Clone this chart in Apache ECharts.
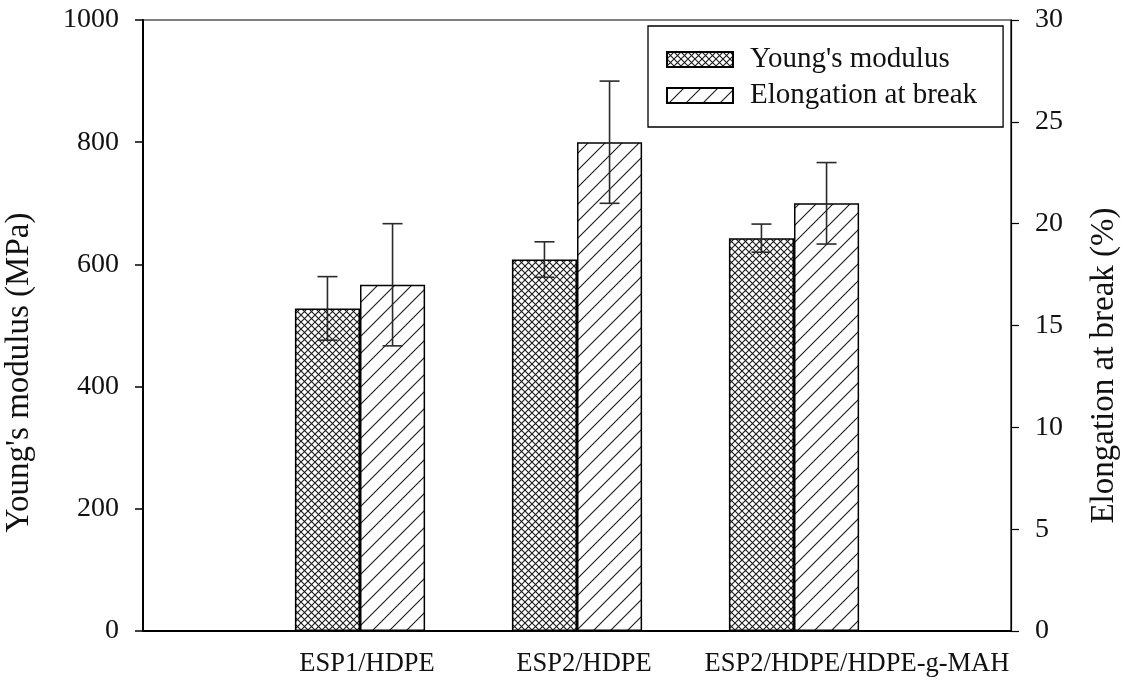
<!DOCTYPE html>
<html>
<head>
<meta charset="utf-8">
<script src="https://cdn.jsdelivr.net/npm/echarts@6/dist/echarts.min.js"></script>
<style>
  html, body { margin: 0; padding: 0; background: #fff; }
  #chart { width: 1125px; height: 681px; }
</style>
</head>
<body>
<div id="chart"></div>
<script>
// Blend categories (empty slots pad both ends of the axis)
const categories = ['', 'ESP1/HDPE', 'ESP2/HDPE', 'ESP2/HDPE/HDPE-g-MAH', ''];
// Young's modulus (MPa) and standard deviation
const youngModulus = ['-', 528, 608, 643, '-'];
const youngSd = [0, 52, 29, 23, 0];
// Elongation at break (%) and standard deviation
const elongation = ['-', 17, 24, 21, '-'];
const elongSd = [0, 3, 3, 2, 0];
// Tick settings
const leftTicks = { min: 0, max: 1000, interval: 200 };
const rightTicks = { min: 0, max: 30, interval: 5 };

const FONT = '"Liberation Serif", "DejaVu Serif", serif';
const INK = '#111';

// Fill patterns: cross-hatch and single diagonal hatch
function crossHatch() {
  const s = 7, c = document.createElement('canvas');
  c.width = s; c.height = s;
  const g = c.getContext('2d');
  g.fillStyle = '#fff'; g.fillRect(0, 0, s, s);
  g.strokeStyle = '#1a1a1a'; g.lineWidth = 1.1;
  g.beginPath();
  g.moveTo(0, 0); g.lineTo(s, s);
  g.moveTo(0, s); g.lineTo(s, 0);
  g.stroke();
  return c;
}
function diagHatch() {
  const s = 17, c = document.createElement('canvas');
  c.width = s; c.height = s;
  const g = c.getContext('2d');
  g.fillStyle = '#fff'; g.fillRect(0, 0, s, s);
  g.strokeStyle = '#1a1a1a'; g.lineWidth = 1.1;
  g.beginPath();
  g.moveTo(-1, s + 1); g.lineTo(s + 1, -1);
  g.moveTo(-1, 1); g.lineTo(1, -1);
  g.moveTo(s - 1, s + 1); g.lineTo(s + 1, s - 1);
  g.stroke();
  return c;
}
const crossFill = { image: crossHatch(), repeat: 'repeat' };
const diagFill = { image: diagHatch(), repeat: 'repeat' };

// Error bars drawn at the centre of each bar of the pair
function errorBars(values, sds, side) {
  return function (params, api) {
    const i = api.value(0);
    const v = values[i];
    if (v === '-') return null;
    const band = api.size([1, 0])[0];
    const dx = side * band * 0.15;
    const top = api.coord([i, v + sds[i]]);
    const bot = api.coord([i, v - sds[i]]);
    const x = top[0] + dx;
    const cap = 10;
    const style = { stroke: '#2a2a2a', lineWidth: 1.6 };
    return {
      type: 'group',
      children: [
        { type: 'line', shape: { x1: x, y1: top[1], x2: x, y2: bot[1] }, style },
        { type: 'line', shape: { x1: x - cap, y1: top[1], x2: x + cap, y2: top[1] }, style },
        { type: 'line', shape: { x1: x - cap, y1: bot[1], x2: x + cap, y2: bot[1] }, style }
      ]
    };
  };
}

const catData = categories.map((c, i) => {
  if (i === 3) return { value: c, textStyle: { padding: [0, 0, 0, 126] } };
  if (i === 1 || i === 2) return { value: c, textStyle: { padding: [0, 0, 0, 14] } };
  return c;
});

const chart = echarts.init(document.getElementById('chart'));
chart.setOption({
  animation: false,
  backgroundColor: '#fff',
  textStyle: { fontFamily: FONT, color: INK },
  grid: {
    left: 143, right: 114, top: 20, bottom: 50,
    outerBoundsMode: 'none', containLabel: false,
    show: true, borderColor: '#000', borderWidth: 1.2, backgroundColor: 'transparent'
  },
  legend: {
    orient: 'vertical',
    left: 648, top: 26,
    padding: [19, 26, 17, 18],
    icon: 'rect',
    itemWidth: 66, itemHeight: 15, itemGap: 7,
    borderColor: '#000', borderWidth: 1.3,
    textStyle: { fontFamily: FONT, fontSize: 29, color: INK, padding: [0, 0, 0, 12] },
    data: ["Young's modulus", 'Elongation at break']
  },
  xAxis: {
    type: 'category',
    data: catData,
    boundaryGap: false,
    axisLine: { lineStyle: { color: '#000', width: 2 } },
    axisTick: { show: false },
    axisLabel: { fontFamily: FONT, fontSize: 26.5, color: INK, margin: 20, interval: 0 },
    splitLine: { show: false }
  },
  yAxis: [
    {
      type: 'value', ...leftTicks,
      name: "Young's modulus (MPa)", nameLocation: 'middle', nameGap: 107,
      nameTextStyle: { fontFamily: FONT, fontSize: 33, color: INK, padding: [0, 94, 0, 0] },
      axisLine: { show: true, lineStyle: { color: '#000', width: 2 } },
      axisTick: { show: true, inside: false, length: 8, lineStyle: { color: '#000', width: 1.5 } },
      axisLabel: { fontFamily: FONT, fontSize: 28, color: INK, margin: 24, formatter: v => String(v) },
      splitLine: { show: false }
    },
    {
      type: 'value', ...rightTicks, position: 'right',
      name: 'Elongation at break (%)', nameLocation: 'middle', nameGap: 77,
      nameRotate: 90,
      nameTextStyle: { fontFamily: FONT, fontSize: 33, color: INK, padding: [0, 80, 0, 0] },
      axisLine: { show: true, lineStyle: { color: '#000', width: 1.2 } },
      axisTick: { show: true, inside: false, length: 8, lineStyle: { color: '#000', width: 1.2 } },
      axisLabel: { fontFamily: FONT, fontSize: 28, color: INK, margin: 24 },
      splitLine: { show: false }
    }
  ],
  series: [
    {
      name: "Young's modulus", type: 'bar', yAxisIndex: 0,
      data: youngModulus, barWidth: '30%', barGap: '0%',
      itemStyle: { color: crossFill, borderColor: '#000', borderWidth: 1.5 }
    },
    {
      name: 'Elongation at break', type: 'bar', yAxisIndex: 1,
      data: elongation, barWidth: '30%', barGap: '0%',
      itemStyle: { color: diagFill, borderColor: '#000', borderWidth: 1.5 }
    },
    {
      type: 'custom', yAxisIndex: 0, z: 5,
      renderItem: errorBars(youngModulus, youngSd, -1),
      data: categories.map((c, i) => [i])
    },
    {
      type: 'custom', yAxisIndex: 1, z: 5,
      renderItem: errorBars(elongation, elongSd, 1),
      data: categories.map((c, i) => [i])
    }
  ]
});
</script>
</body>
</html>
